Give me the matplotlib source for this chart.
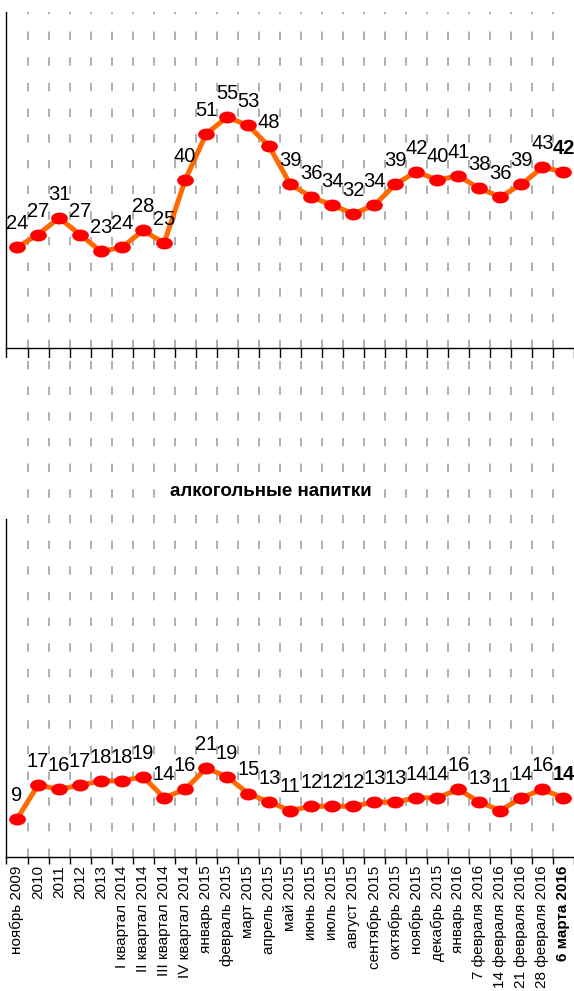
import numpy as np
import matplotlib
matplotlib.use('Agg')
from matplotlib import pyplot as plt
from matplotlib import font_manager
from matplotlib.path import Path
from matplotlib.transforms import Affine2D

labels = ['ноябрь 2009', '2010', '2011', '2012', '2013',
          'I квартал 2014', 'II квартал 2014', 'III квартал 2014', 'IV квартал 2014',
          'январь 2015', 'февраль 2015', 'март 2015', 'апрель 2015', 'май 2015',
          'июнь 2015', 'июль 2015', 'август 2015', 'сентябрь 2015', 'октябрь 2015',
          'ноябрь 2015', 'декабрь 2015', 'январь 2016', '7 февраля 2016',
          '14 февраля 2016', '21 февраля 2016', '28 февраля 2016', '6 марта 2016']
top_vals = [24, 27, 31, 27, 23, 24, 28, 25, 40, 51, 55, 53, 48, 39, 36, 34, 32,
            34, 39, 42, 40, 41, 38, 36, 39, 43, 42]
alco_vals = [9, 17, 16, 17, 18, 18, 19, 14, 16, 21, 19, 15, 13, 11, 12, 12, 12,
             13, 13, 14, 14, 16, 13, 11, 14, 16, 14]
title_alco = 'алкогольные напитки'

names = {f.name for f in font_manager.fontManager.ttflist}
fam = 'Liberation Sans Narrow' if 'Liberation Sans Narrow' in names else 'Liberation Sans'
plt.rcParams['font.family'] = [fam, 'DejaVu Sans']

orange = '#ff6a00'
red = '#ff0000'
grid_c = '#9a9a9a'
ell = Path.unit_circle().transformed(Affine2D().scale(1.45, 1.0))

fig = plt.figure(figsize=(5.74, 9.91), dpi=100)
ax1 = fig.add_axes([0.0113, 0.6488, 0.9887, 0.3390])
ax2 = fig.add_axes([0.0113, 0.1352, 0.9887, 0.5035])

x = np.arange(len(labels))


def style(ax, vals, ymax, tick_len):
    ax.plot(x, vals, color=orange, lw=3.6, zorder=3,
            marker=ell, ms=11, mfc=red, mec=red)
    ax.set_xlim(-0.5, len(labels) - 0.5)
    ax.set_ylim(0, ymax)
    for s in ['top', 'right']:
        ax.spines[s].set_visible(False)
    ax.spines['left'].set_bounds(0, 80)
    ax.spines['left'].set_linewidth(1.0)
    ax.spines['bottom'].set_linewidth(1.0)
    ax.set_yticks([])
    # dashed verticals on category boundaries
    for b in np.arange(0.5, len(labels) - 0.5, 1):
        ax.axvline(b, color=grid_c, lw=1.1, ls=(0, (5.5, 11.3)), zorder=1)
    ax.set_xticks(np.arange(-0.5, len(labels), 1), minor=True)
    ax.tick_params(axis='x', which='minor', length=tick_len, width=1, direction='out')
    for i, v in enumerate(vals):
        last = i == len(vals) - 1
        ax.annotate(str(v), (x[i], v), xytext=(0.5 if last else 0, 17),
                    textcoords='offset points',
                    ha='center', va='center', fontsize=14.5,
                    fontweight='bold' if last else 'normal', zorder=4)


style(ax1, top_vals, 80, 7)
ax1.set_xticks(x)
ax1.set_xticklabels([])
ax1.tick_params(axis='x', which='major', length=0)

style(ax2, alco_vals, 118, 5)
ax2.set_xticks(x)
ax2.set_xticklabels(labels, rotation=90, fontsize=11)
ax2.tick_params(axis='x', which='major', length=0, pad=6)
ax2.get_xticklabels()[-1].set_fontweight('bold')
ax2.text(0.465, 86.5, title_alco, transform=ax2.get_yaxis_transform(),
         ha='center', va='center', fontsize=13.5, fontweight='bold',
         bbox=dict(facecolor='white', edgecolor='none', pad=8), zorder=5)

fig.savefig('out.png', dpi=100)
